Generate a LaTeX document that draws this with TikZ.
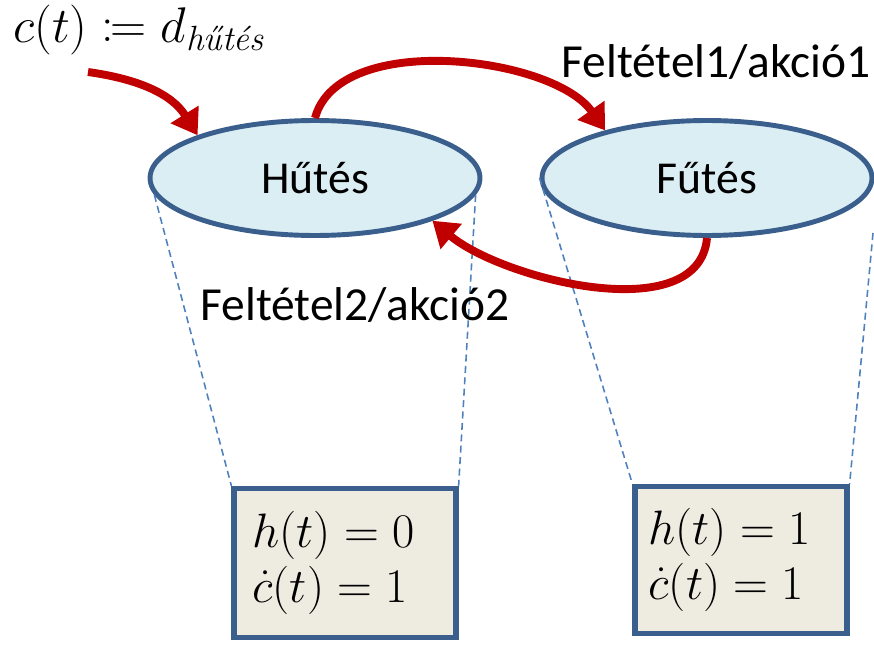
\RequirePackage{fix-cm}
\documentclass[tikz,border=0pt]{standalone}
\usepackage{amsmath,mathtools}
\usepackage{fontspec}
\newfontfamily\calibri{Carlito}
\usetikzlibrary{shapes.geometric,arrows.meta}
\definecolor{stateblue}{HTML}{DBEEF4}
\definecolor{stateline}{HTML}{3A5F8D}
\definecolor{boxfill}{HTML}{EEECE1}
\definecolor{dashblue}{HTML}{4F81BD}
\definecolor{arrowred}{HTML}{C00000}

\begin{document}
\begin{tikzpicture}[x=0.02cm,y=-0.02cm,
  state/.style={ellipse,draw=stateline,fill=stateblue,line width=2.8pt,minimum width=6.6cm,minimum height=2.3cm,font=\calibri\fontsize{26}{30}\selectfont},
  valbox/.style={rectangle,draw=stateline,fill=boxfill,line width=3pt,align=left,text width=3.7cm,font=\fontsize{27.5}{31}\selectfont},
  zoomline/.style={dashblue,line width=0.9pt,dash pattern=on 4pt off 2.5pt},
  trans/.style={arrowred,line width=4.5pt,-{Triangle[length=14pt,width=18pt]}},
  lbl/.style={font=\calibri\fontsize{27}{30}\selectfont,anchor=base}]
\useasboundingbox (0,0) rectangle (874,645);

\node[state] (hutes) at (315,178) {Hűtés};
\node[state] (futes) at (707,178) {Fűtés};

\node[valbox,minimum width=4.44cm,minimum height=2.98cm] (box0) at (345,563) {$h(t)=0$\\$\dot{c}(t)=1$};
\node[valbox,minimum width=4.24cm,minimum height=2.94cm] (box1) at (741,560) {$h(t)=1$\\$\dot{c}(t)=1$};

% zoom lines
\coordinate (futesedge) at (873,233);
\draw[zoomline] (hutes.186) -- (box0.north west);
\draw[zoomline] (hutes.-6) -- (box0.north east);
\draw[zoomline] (futes.west) -- (box1.north west);
\draw[zoomline] (futesedge) -- (box1.north east);

% transitions
\coordinate (start) at (88,72);
\draw[trans] (start) to[out=-8,in=122] (hutes.160);
\draw[trans] (hutes.north) to[out=75,in=125,looseness=0.8] (futes.155);
\draw[trans] (futes.south) to[out=-95,in=-40,looseness=0.85] (hutes.340);

\node[anchor=base west,inner sep=0pt,font=\fontsize{28.5}{32}\selectfont] (init) at (13,43) {$c(t)\coloneqq d_{\text{\itshape hűtés}}$};
\node[lbl] (cond1) at (716,78) {Feltétel1/akció1};
\node[lbl] (cond2) at (355,320) {Feltétel2/akció2};

\end{tikzpicture}
\end{document}
